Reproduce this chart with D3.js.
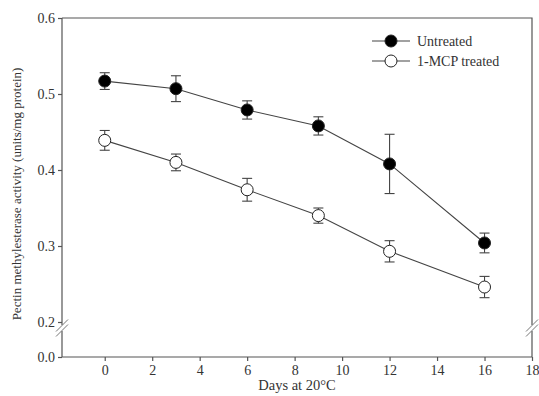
<!DOCTYPE html>
<html>
<head>
<meta charset="utf-8">
<script src="https://cdn.jsdelivr.net/npm/d3@7"></script>
<style>
  body { margin: 0; background: #fff; }
  svg { display: block; font-family: "Liberation Serif", "Times New Roman", serif; }
</style>
</head>
<body>
<div id="chart"></div>
<script>
// --- data ---
const days = [0, 3, 6, 9, 12, 16];
const untreated = [0.517, 0.507, 0.479, 0.458, 0.408, 0.304];
const untreatedErr = [0.011, 0.017, 0.012, 0.012, 0.039, 0.013];
const treated = [0.439, 0.410, 0.374, 0.340, 0.293, 0.246];
const treatedErr = [0.013, 0.011, 0.015, 0.010, 0.014, 0.014];
const xTicks = [0, 2, 4, 6, 8, 10, 12, 14, 16, 18];
const yTicks = [0.0, 0.2, 0.3, 0.4, 0.5, 0.6];

const width = 539, height = 396;
const mLeft = 62, mRight = 532, mTop = 18, mBottom = 357;

const svg = d3.select('#chart')
    .append('svg')
        .attr('width', width)
        .attr('height', height);

const x = d3.scaleLinear()
    .domain([-1.8, 18])
    .range([mLeft, mRight]);

// broken axis: 0.0 sits under the break, 0.2 - 0.6 is linear
const y = d3.scaleLinear()
    .domain([0, 0.2, 0.6])
    .range([mBottom, 322, mTop]);

const axisColor = '#555';
const textColor = '#333';

// frame (top + right)
svg.append('path')
    .attr('d', `M${mLeft},${mTop}H${mRight}V${mBottom}`)
    .attr('fill', 'none')
    .attr('stroke', axisColor)
    .attr('stroke-width', 1.2);

// y axis
const yAxis = svg.append('g')
    .attr('transform', `translate(${mLeft},0)`)
    .call(d3.axisLeft(y).tickValues(yTicks).tickFormat(d3.format('.1f')).tickSize(4).tickPadding(3));

// x axis
const xAxis = svg.append('g')
    .attr('transform', `translate(0,${mBottom})`)
    .call(d3.axisBottom(x).tickValues(xTicks).tickFormat(d3.format('d')).tickSize(4).tickPadding(4));

[yAxis, xAxis].forEach(a => {
    a.select('.domain').remove();
    a.selectAll('line').attr('stroke', axisColor).attr('stroke-width', 1.2);
    a.selectAll('text').attr('fill', textColor).style('font-size', '14px').style('font-family', '"Liberation Serif", serif');
});

// left + bottom axis lines
svg.append('path')
    .attr('d', `M${mLeft},${mTop}V${mBottom}H${mRight}`)
    .attr('fill', 'none')
    .attr('stroke', axisColor)
    .attr('stroke-width', 1.2);

// break marks on both vertical axes
function breakMark(cx, cy) {
    const g = svg.append('g');
    g.append('rect')
        .attr('x', cx - 3).attr('y', cy - 3)
        .attr('width', 6).attr('height', 6)
        .attr('fill', '#fff');
    [-2.5, 2.5].forEach(o => {
        g.append('line')
            .attr('x1', cx - 6).attr('y1', cy + 6 + o)
            .attr('x2', cx + 6).attr('y2', cy - 6 + o)
            .attr('stroke', '#777')
            .attr('stroke-width', 1);
    });
}
breakMark(mLeft, 328);
breakMark(mRight, 328);

// series
const line = d3.line()
    .x(d => x(d.day))
    .y(d => y(d.v));

function drawSeries(vals, errs, fill) {
    const data = days.map((d, i) => ({day: d, v: vals[i], e: errs[i]}));
    const g = svg.append('g');

    g.append('path')
        .datum(data)
        .attr('d', line)
        .attr('fill', 'none')
        .attr('stroke', '#444')
        .attr('stroke-width', 1.1);

    const eb = g.selectAll('g.err')
        .data(data)
        .join('g')
            .attr('stroke', '#444')
            .attr('stroke-width', 1.1);
    eb.append('line')
        .attr('x1', d => x(d.day)).attr('x2', d => x(d.day))
        .attr('y1', d => y(d.v - d.e)).attr('y2', d => y(d.v + d.e));
    eb.append('line')
        .attr('x1', d => x(d.day) - 5).attr('x2', d => x(d.day) + 5)
        .attr('y1', d => y(d.v + d.e)).attr('y2', d => y(d.v + d.e));
    eb.append('line')
        .attr('x1', d => x(d.day) - 5).attr('x2', d => x(d.day) + 5)
        .attr('y1', d => y(d.v - d.e)).attr('y2', d => y(d.v - d.e));

    g.selectAll('circle')
        .data(data)
        .join('circle')
            .attr('cx', d => x(d.day))
            .attr('cy', d => y(d.v))
            .attr('r', 6)
            .attr('fill', fill)
            .attr('stroke', '#222')
            .attr('stroke-width', 1);
}
drawSeries(treated, treatedErr, '#fff');
drawSeries(untreated, untreatedErr, '#000');

// legend
const legendItems = [
    {label: 'Untreated', fill: '#000', yy: 41},
    {label: '1-MCP treated', fill: '#fff', yy: 61}
];
legendItems.forEach(it => {
    svg.append('line')
        .attr('x1', 372).attr('x2', 410)
        .attr('y1', it.yy).attr('y2', it.yy)
        .attr('stroke', '#444').attr('stroke-width', 1.1);
    svg.append('circle')
        .attr('cx', 391).attr('cy', it.yy).attr('r', 6)
        .attr('fill', it.fill).attr('stroke', '#222');
    svg.append('text')
        .attr('x', 417).attr('y', it.yy + 5)
        .style('font-size', '14px')
        .attr('fill', textColor)
        .text(it.label);
});

// axis titles
svg.append('text')
    .attr('x', (mLeft + mRight) / 2)
    .attr('y', 390)
    .attr('text-anchor', 'middle')
    .style('font-size', '14.5px')
    .attr('fill', textColor)
    .text('Days at 20°C');

svg.append('text')
    .attr('transform', `translate(21,194) rotate(-90)`)
    .attr('text-anchor', 'middle')
    .style('font-size', '13px')
    .attr('fill', textColor)
    .text('Pectin methylesterase activity (units/mg protein)');
</script>
</body>
</html>
